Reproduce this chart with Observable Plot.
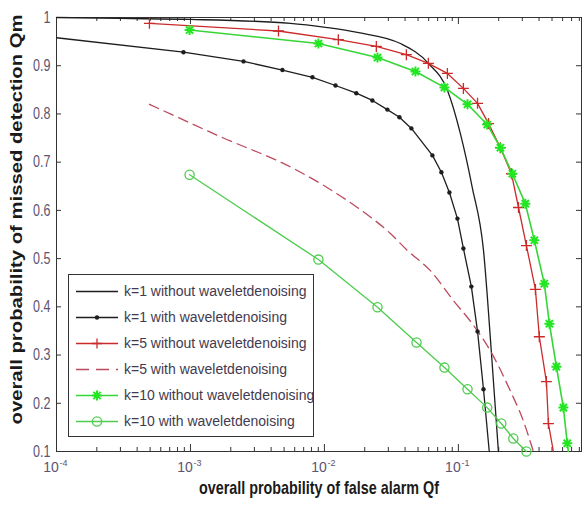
<!DOCTYPE html>
<html><head><meta charset="utf-8">
<script src="https://cdn.jsdelivr.net/npm/d3@7"></script>
<script src="https://cdn.jsdelivr.net/npm/@observablehq/plot@0.6"></script>
<style>
body{margin:0;background:#fff;}
#wrap{position:relative;width:587px;height:505px;}
#legend{position:absolute;left:68px;top:274px;width:246px;height:163px;box-sizing:border-box;border:1px solid #333;background:#fff;font-family:"Liberation Sans",Arial,sans-serif;font-size:14px;color:#433a50;}
.row{position:absolute;left:0;height:20px;display:flex;align-items:center;white-space:nowrap;}
.row svg{margin-left:6px;margin-right:5px;}
</style></head><body><div id="wrap"></div>
<script>
// ---- data ----
const k1WithoutQf = [1e-4, 3.0e-4, 1.0e-3, 5.57e-3, 0.0105, 0.0176, 0.0369, 0.0597, 0.0828, 0.1035, 0.127, 0.154, 0.176, 0.199];
const k1WithoutQm = [1.0, 0.998, 0.996, 0.988, 0.979, 0.969, 0.946, 0.905, 0.849, 0.759, 0.647, 0.517, 0.309, 0.1];

const k1WithQf = [1e-4, 8.87e-4, 2.49e-3, 4.86e-3, 8.14e-3, 0.0121, 0.0173, 0.0228, 0.0295, 0.0363, 0.0446, 0.0640, 0.0747, 0.0857, 0.0984, 0.109, 0.125, 0.139, 0.154, 0.170];
const k1WithQm = [0.958, 0.928, 0.909, 0.891, 0.876, 0.859, 0.843, 0.828, 0.809, 0.793, 0.770, 0.714, 0.679, 0.637, 0.583, 0.521, 0.442, 0.349, 0.229, 0.1];

const k5WithoutQf = [4.94e-4, 4.54e-3, 0.0127, 0.0244, 0.0409, 0.0597, 0.0828, 0.109, 0.139, 0.168, 0.206, 0.249, 0.281, 0.322, 0.376, 0.402, 0.454, 0.470, 0.512];
const k5WithoutQm = [0.988, 0.972, 0.954, 0.940, 0.923, 0.905, 0.884, 0.853, 0.822, 0.780, 0.730, 0.676, 0.606, 0.527, 0.436, 0.338, 0.245, 0.158, 0.1];

const k5WithQf = [4.94e-4, 1.67e-3, 5.87e-3, 9.84e-3, 0.0176, 0.0311, 0.0416, 0.0618, 0.0918, 0.127, 0.173, 0.244, 0.305, 0.363];
const k5WithQm = [0.820, 0.753, 0.687, 0.652, 0.606, 0.552, 0.517, 0.475, 0.413, 0.365, 0.309, 0.226, 0.164, 0.1];

const k10WithoutQf = [9.85e-4, 9.02e-3, 0.0249, 0.0478, 0.0787, 0.117, 0.164, 0.206, 0.253, 0.316, 0.369, 0.438, 0.478, 0.539, 0.608, 0.650, 0.662];
const k10WithoutQm = [0.974, 0.946, 0.917, 0.888, 0.855, 0.820, 0.778, 0.730, 0.676, 0.614, 0.538, 0.448, 0.365, 0.276, 0.191, 0.117, 0.1];

const k10WithQf = [9.85e-4, 9.02e-3, 0.0249, 0.0487, 0.0787, 0.117, 0.164, 0.209, 0.257, 0.322];
const k10WithQm = [0.674, 0.498, 0.399, 0.326, 0.274, 0.229, 0.191, 0.158, 0.127, 0.1];

const seriesNames = ["k=1 without waveletdenoising", "k=1 with waveletdenoising", "k=5 without waveletdenoising", "k=5 with waveletdenoising", "k=10 without waveletdenoising", "k=10 with waveletdenoising"];
const yTicks = [0.1, 0.2, 0.3, 0.4, 0.5, 0.6, 0.7, 0.8, 0.9, 1];
const yTickLabels = ["0.1", "0.2", "0.3", "0.4", "0.5", "0.6", "0.7", "0.8", "0.9", "1"];
const xMajorTicks = [1e-4, 1e-3, 1e-2, 1e-1];
const xTickBase = ["10", "10", "10", "10"];
const xTickExponents = ["-4", "-3", "-2", "-1"];
const xLabel = "overall probability of false alarm Qf";
const yLabel = "overall probability of missed detection Qm";

// ---- styles ----
const colors = ["#1e1e1e", "#1e1e1e", "#cc2a2a", "#bb4a5e", "#36d636", "#4dcc4d"];
const dashes = [null, null, null, "10,6", null, null];
const curves = ["monotone-x", "linear", "linear", "monotone-x", "linear", "linear"];
const W = 587, H = 505, mL = 56, mR = 6, mT = 17, mB = 54;
const plotW = W - mL - mR, plotH = H - mT - mB;
const FONT = "Liberation Sans, Arial, sans-serif";

const seriesData = [
  [k1WithoutQf, k1WithoutQm], [k1WithQf, k1WithQm], [k5WithoutQf, k5WithoutQm],
  [k5WithQf, k5WithQm], [k10WithoutQf, k10WithoutQm], [k10WithQf, k10WithQm]
];
const rows = seriesData.flatMap(([qf, qm], i) => qf.map((q, j) => ({series: seriesNames[i], idx: i, qf: q, qm: qm[j]})));
const rowsOf = i => rows.filter(d => d.idx === i);

const plusSymbol = {draw(ctx, size) { const r = Math.sqrt(size / Math.PI); ctx.moveTo(-r, 0); ctx.lineTo(r, 0); ctx.moveTo(0, -r); ctx.lineTo(0, r); }};
const starSymbol = {draw(ctx, size) { const r = Math.sqrt(size / Math.PI); const q = r * 0.72;
  ctx.moveTo(-r, 0); ctx.lineTo(r, 0); ctx.moveTo(0, -r); ctx.lineTo(0, r);
  ctx.moveTo(-q, -q); ctx.lineTo(q, q); ctx.moveTo(-q, q); ctx.lineTo(q, -q); }};

const xMinorTicks = [];
for (let e = -4; e <= -1; e++) for (let m = 2; m <= 9; m++) { const v = m * Math.pow(10, e); if (v <= 0.83) xMinorTicks.push(v); }

const marks = [
  Plot.frame({stroke: "#333"}),
  Plot.tickX(xMinorTicks, {x: d => d, stroke: "#333", insetTop: plotH - 4}),
  Plot.tickX(xMinorTicks, {x: d => d, stroke: "#333", insetBottom: plotH - 4}),
  Plot.tickX(xMajorTicks, {x: d => d, stroke: "#333", insetTop: plotH - 7}),
  Plot.tickX(xMajorTicks, {x: d => d, stroke: "#333", insetBottom: plotH - 7}),
  Plot.tickY(yTicks, {y: d => d, stroke: "#333", insetRight: plotW - 5}),
  Plot.tickY(yTicks, {y: d => d, stroke: "#333", insetLeft: plotW - 5}),
];
seriesData.forEach((_, i) => {
  marks.push(Plot.line(rowsOf(i), {x: "qf", y: "qm", stroke: colors[i], strokeWidth: i === 4 ? 1.6 : 1.3, strokeDasharray: dashes[i] || undefined, curve: curves[i]}));
});
marks.push(
  Plot.dot(rowsOf(1).filter(d => d.qf > 1e-4 && d.qm > 0.1), {x: "qf", y: "qm", r: 2.2, fill: colors[1]}),
  Plot.dot(rowsOf(2).filter(d => d.qm > 0.1), {x: "qf", y: "qm", symbol: plusSymbol, r: 5.5, stroke: colors[2], strokeWidth: 1.3, fill: "none"}),
  Plot.dot(rowsOf(4).filter(d => d.qm > 0.1), {x: "qf", y: "qm", symbol: starSymbol, r: 5, stroke: "#22e622", strokeWidth: 2, fill: "none"}),
  Plot.dot(rowsOf(5), {x: "qf", y: "qm", r: 4.6, stroke: colors[5], strokeWidth: 1.3, fill: "none"}),
  Plot.text(yTicks, {y: d => d, text: (d, i) => yTickLabels[i], frameAnchor: "left", textAnchor: "end", dx: -6, fontSize: 16.5, fill: "#5c5470", fontFamily: FONT}),
  Plot.text(xMajorTicks, {x: d => d, text: (d, i) => xTickBase[i], frameAnchor: "bottom", textAnchor: "middle", dx: -5.5, dy: 20, fontSize: 14, fill: "#5c5470", fontFamily: FONT}),
  Plot.text(xMajorTicks, {x: d => d, text: (d, i) => xTickExponents[i], frameAnchor: "bottom", textAnchor: "start", dx: 3, dy: 14.5, fontSize: 9, fill: "#5c5470", fontFamily: FONT}),
  Plot.text([xLabel], {text: d => d, frameAnchor: "bottom", textAnchor: "middle", dy: 42, fontSize: 19, fontWeight: "bold", fill: "#1a1a1a", fontFamily: FONT}),
  Plot.text([yLabel], {text: d => d, frameAnchor: "left", textAnchor: "middle", rotate: -90, dx: -40, dy: -15, fontSize: 17, fontWeight: "bold", fill: "#1a1a1a", fontFamily: FONT})
);

const chart = Plot.plot({
  width: W, height: H, marginLeft: mL, marginRight: mR, marginTop: mT, marginBottom: mB,
  x: {type: "log", domain: [1e-4, 0.83], axis: null},
  y: {domain: [0.1, 1], axis: null},
  style: {fontFamily: FONT, background: "white"},
  marks
});

const wrap = document.getElementById("wrap");
wrap.appendChild(chart);

// horizontal compression of glyphs, as in the reference image
function fitText(svg, contents, factor, target) {
  svg.querySelectorAll("text").forEach(t => {
    if (contents.includes(t.textContent)) {
      const len = t.getComputedTextLength();
      t.setAttribute("textLength", target != null ? target : len * factor);
      t.setAttribute("lengthAdjust", "spacingAndGlyphs");
    }
  });
}
fitText(chart, yTickLabels, 0.76);
fitText(chart, [xLabel], null, 240);
fitText(chart, [yLabel], null, 410);

// ---- legend ----
const legend = document.createElement("div");
legend.id = "legend";
wrap.appendChild(legend);
const markerSymbols = [null, "dot", plusSymbol, null, starSymbol, "circle"];
seriesNames.forEach((name, i) => {
  const row = document.createElement("div");
  row.className = "row";
  row.style.top = (16 + i * 26 - 10) + "px";
  const sw = d3.create("svg").attr("width", 44).attr("height", 20);
  sw.append("line").attr("x1", 1).attr("x2", 43).attr("y1", 10.5).attr("y2", 10.5)
    .attr("stroke", colors[i]).attr("stroke-width", i === 4 ? 1.6 : 1.3)
    .attr("stroke-dasharray", dashes[i] ? "13,7" : null);
  const m = markerSymbols[i];
  if (m === "dot") sw.append("circle").attr("cx", 22).attr("cy", 10.5).attr("r", 2.2).attr("fill", colors[i]);
  else if (m === "circle") sw.append("circle").attr("cx", 22).attr("cy", 10.5).attr("r", 4.6).attr("fill", "none").attr("stroke", colors[i]).attr("stroke-width", 1.3);
  else if (m) { const p = d3.path(); m.draw(p, Math.PI * 25);
    sw.append("path").attr("d", p.toString()).attr("transform", "translate(22,10.5)").attr("fill", "none")
      .attr("stroke", i === 4 ? "#22e622" : colors[i]).attr("stroke-width", i === 4 ? 2 : 1.3); }
  row.appendChild(sw.node());
  const label = document.createElement("span");
  label.textContent = name;
  row.appendChild(label);
  legend.appendChild(row);
});
</script></body></html>
